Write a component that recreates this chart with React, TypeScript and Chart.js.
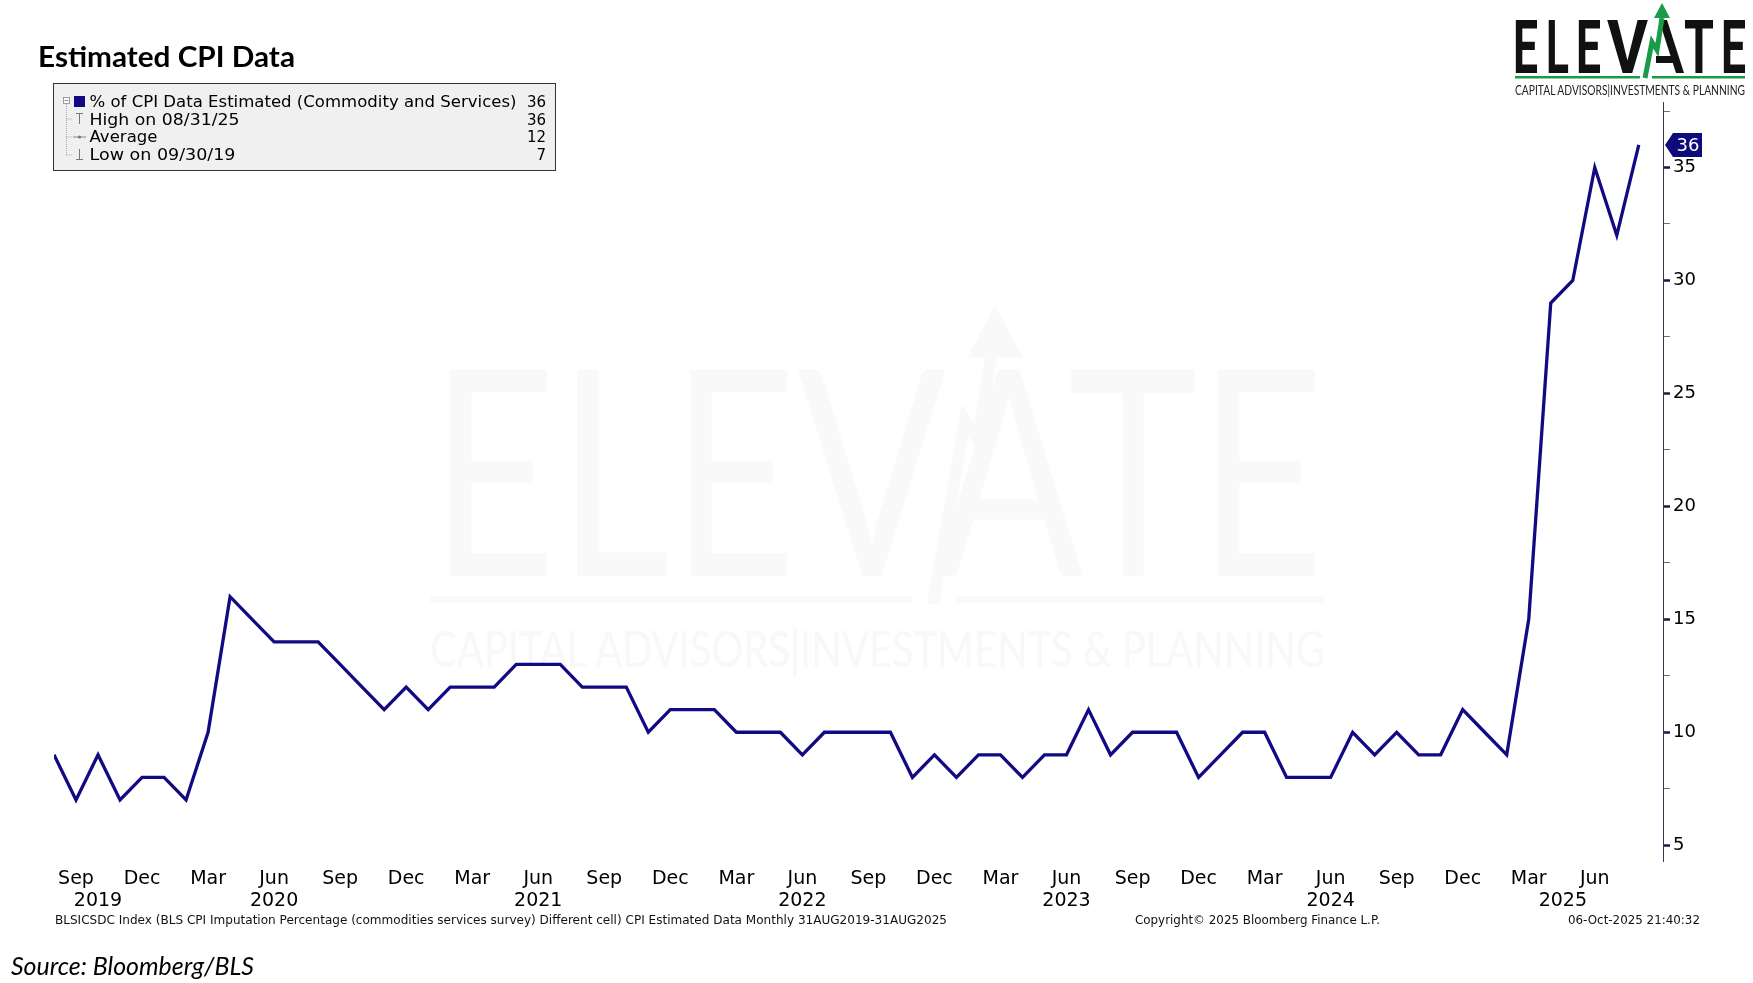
import React, { useEffect, useRef } from "react";
import { Chart, registerables } from "chart.js";

Chart.register(...registerables);

// ---------- data ----------
const months: string[] = [
  "2019-08", "2019-09", "2019-10", "2019-11", "2019-12",
  "2020-01", "2020-02", "2020-03", "2020-04", "2020-05", "2020-06", "2020-07", "2020-08", "2020-09", "2020-10", "2020-11", "2020-12",
  "2021-01", "2021-02", "2021-03", "2021-04", "2021-05", "2021-06", "2021-07", "2021-08", "2021-09", "2021-10", "2021-11", "2021-12",
  "2022-01", "2022-02", "2022-03", "2022-04", "2022-05", "2022-06", "2022-07", "2022-08", "2022-09", "2022-10", "2022-11", "2022-12",
  "2023-01", "2023-02", "2023-03", "2023-04", "2023-05", "2023-06", "2023-07", "2023-08", "2023-09", "2023-10", "2023-11", "2023-12",
  "2024-01", "2024-02", "2024-03", "2024-04", "2024-05", "2024-06", "2024-07", "2024-08", "2024-09", "2024-10", "2024-11", "2024-12",
  "2025-01", "2025-02", "2025-03", "2025-04", "2025-05", "2025-06", "2025-07", "2025-08",
];

const values: number[] = [
  9, 7, 9, 7, 8,
  8, 7, 10, 16, 15, 14, 14, 14, 13, 12, 11, 12,
  11, 12, 12, 12, 13, 13, 13, 12, 12, 12, 10, 11,
  11, 11, 10, 10, 10, 9, 10, 10, 10, 10, 8, 9,
  8, 9, 9, 8, 9, 9, 11, 9, 10, 10, 10, 8,
  9, 10, 10, 8, 8, 8, 10, 9, 10, 9, 9, 11,
  10, 9, 15, 29, 30, 35, 32, 36,
];

const monthNames = ["Jan", "Feb", "Mar", "Apr", "May", "Jun", "Jul", "Aug", "Sep", "Oct", "Nov", "Dec"];
const quarterMonthLabels = ["Sep", "Dec", "Mar", "Jun"];
const yMajorTicks = [5, 10, 15, 20, 25, 30, 35];
const yMinorTicks = [7.5, 12.5, 17.5, 22.5, 27.5, 32.5, 37.5];

const seriesName = "% of CPI Data Estimated (Commodity and Services)";
const chartTitle = "Estimated CPI Data";
const footerLeft =
  "BLSICSDC Index (BLS CPI Imputation Percentage (commodities services survey) Different cell) CPI Estimated Data Monthly 31AUG2019-31AUG2025";
const footerMid = "Copyright\u00A9 2025 Bloomberg Finance L.P.";
const footerRight = "06-Oct-2025 21:40:32";
const sourceText = "Source: Bloomberg/BLS";
const logoSub = "CAPITAL ADVISORS|INVESTMENTS & PLANNING";

// ---------- derived ----------
const Y_MIN = 4.3;
const Y_MAX = 37.9;
const X_MAX = values.length - 1 + 1.1;
const LINE = "#120a82";

const monthTicks = months
  .map((m, i) => ({ i, name: monthNames[parseInt(m.slice(5), 10) - 1] }))
  .filter((t) => quarterMonthLabels.includes(t.name));

const yearList: string[] = [];
months.forEach((m) => {
  const y = m.slice(0, 4);
  if (!yearList.includes(y)) yearList.push(y);
});
const yearTicks = yearList.map((y, k) => {
  let last = -1;
  months.forEach((m, i) => {
    if (m.startsWith(y)) last = i;
  });
  let start = 0;
  if (k > 0) {
    const prev = yearList[k - 1];
    months.forEach((m, i) => {
      if (m.startsWith(prev)) start = i;
    });
  }
  const end = k === yearList.length - 1 ? X_MAX : last;
  return { value: (start + end) / 2, label: y };
});

function fmtDate(m: string) {
  const yy = parseInt(m.slice(0, 4), 10);
  const mm = parseInt(m.slice(5), 10);
  const dd = new Date(yy, mm, 0).getDate();
  return `${String(mm).padStart(2, "0")}/${String(dd).padStart(2, "0")}/${String(yy).slice(2)}`;
}
const lastVal = values[values.length - 1];
const highVal = Math.max(...values);
const highIdx = values.lastIndexOf(highVal);
const lowVal = Math.min(...values);
const lowIdx = values.indexOf(lowVal);
const avgVal = Math.round(values.reduce((a, b) => a + b, 0) / values.length);

const badgePlugin = {
  id: "lastBadge",
  afterDraw(chart: any) {
    const ctx = chart.ctx as CanvasRenderingContext2D;
    const ys = chart.scales.y;
    const y = ys.getPixelForValue(lastVal);
    const r = chart.chartArea.right;
    ctx.save();
    ctx.fillStyle = "#0e0a7c";
    ctx.beginPath();
    ctx.moveTo(r + 2, y);
    ctx.lineTo(r + 10, y - 12);
    ctx.lineTo(r + 39, y - 12);
    ctx.lineTo(r + 39, y + 12);
    ctx.lineTo(r + 10, y + 12);
    ctx.closePath();
    ctx.fill();
    ctx.fillStyle = "#ffffff";
    ctx.font = "18px 'DejaVu Sans', Verdana, sans-serif";
    ctx.textAlign = "center";
    ctx.textBaseline = "middle";
    ctx.fillText(String(lastVal), r + 25, y + 1);
    ctx.restore();
  },
};

const TICK_FONT = "'DejaVu Sans', Verdana, sans-serif";

export default function App() {
  const canvasRef = useRef<HTMLCanvasElement | null>(null);

  useEffect(() => {
    if (!canvasRef.current) return;
    const chart = new Chart(canvasRef.current, {
      type: "line",
      data: {
        datasets: [
          {
            label: seriesName,
            data: values.map((v, i) => ({ x: i, y: v })),
            borderColor: LINE,
            borderWidth: 3.3,
            pointRadius: 0,
            tension: 0,
            fill: false,
            borderJoinStyle: "miter",
          } as any,
        ],
      },
      options: {
        animation: false,
        responsive: false,
        maintainAspectRatio: false,
        layout: { padding: { left: 54, right: 0, top: 102, bottom: 69 } },
        plugins: {
          legend: { display: false },
          tooltip: { enabled: false },
          title: { display: false },
        },
        scales: {
          x: {
            type: "linear",
            position: "bottom",
            min: 0,
            max: X_MAX,
            weight: 0,
            grid: { display: false, drawTicks: false },
            border: { display: false },
            afterBuildTicks: (s: any) => {
              s.ticks = monthTicks.map((t) => ({ value: t.i }));
            },
            afterFit: (s: any) => {
              s.height = 29;
            },
            ticks: {
              autoSkip: false,
              maxRotation: 0,
              minRotation: 0,
              padding: 7,
              color: "#000",
              font: { family: TICK_FONT, size: 19 },
              callback: (_v: any, idx: number) => (monthTicks[idx] ? monthTicks[idx].name : ""),
            },
          },
          x2: {
            type: "linear",
            position: "bottom",
            min: 0,
            max: X_MAX,
            weight: 1,
            grid: { display: false, drawTicks: false },
            border: { display: false },
            afterBuildTicks: (s: any) => {
              s.ticks = yearTicks.map((t) => ({ value: t.value }));
            },
            afterFit: (s: any) => {
              s.height = 24;
            },
            ticks: {
              autoSkip: false,
              maxRotation: 0,
              minRotation: 0,
              padding: 0,
              color: "#000",
              font: { family: TICK_FONT, size: 19 },
              callback: (_v: any, idx: number) => (yearTicks[idx] ? yearTicks[idx].label : ""),
            },
          },
          y: {
            type: "linear",
            position: "right",
            min: Y_MIN,
            max: Y_MAX,
            afterBuildTicks: (s: any) => {
              s.ticks = [...yMajorTicks, ...yMinorTicks].sort((a, b) => a - b).map((v) => ({ value: v }));
            },
            afterFit: (s: any) => {
              s.width = 90;
            },
            grid: {
              drawOnChartArea: false,
              drawTicks: true,
              tickLength: 7,
              tickColor: (c: any) => (c.tick && yMajorTicks.includes(c.tick.value) ? "#1a1a3a" : "#6a6a80"),
              tickWidth: (c: any) => (c.tick && yMajorTicks.includes(c.tick.value) ? 2.5 : 1),
            },
            border: { display: true, color: "#3a3a55", width: 1 },
            ticks: {
              autoSkip: false,
              padding: 3,
              color: "#000",
              font: { family: TICK_FONT, size: 18 },
              callback: (v: any) => (yMajorTicks.includes(Number(v)) ? String(v) : ""),
            },
          },
        },
      },
      plugins: [badgePlugin],
    } as any);
    return () => chart.destroy();
  }, []);

  const legendRows = [
    { text: seriesName, val: String(lastVal), y: 107, len: 427 },
    { text: `High on ${fmtDate(months[highIdx])}`, val: String(highVal), y: 124.7, len: 150 },
    { text: "Average", val: String(avgVal), y: 142.4, len: 68 },
    { text: `Low on ${fmtDate(months[lowIdx])}`, val: String(lowVal), y: 160.1, len: 146 },
  ];

  const letters = [
    { ch: "E", x: 1513, w: 25 },
    { ch: "L", x: 1546, w: 23 },
    { ch: "E", x: 1576, w: 25 },
    { ch: "V", x: 1607, w: 41 },
    { ch: "T", x: 1684, w: 30 },
    { ch: "E", x: 1721, w: 25 },
  ];

  return (
    <div style={{ position: "fixed", left: 0, top: 0, width: 1753, height: 983, background: "#fff", overflow: "hidden" }}>
      {/* watermark */}
      <svg width={1753} height={983} style={{ position: "absolute", left: 0, top: 0 }}>
        <text x={430} y={576} fontFamily="Lato, 'Open Sans', sans-serif" fontSize={288} fill="#f9f9f9" textLength={895} lengthAdjust="spacingAndGlyphs">
          ELEVATE
        </text>
        <rect x={430} y={596} width={482} height={7} fill="#fafafa" />
        <rect x={955} y={596} width={370} height={7} fill="#fafafa" />
        <polyline points="933,604 965,420 978,440 995,330" fill="none" stroke="#f9f9f9" strokeWidth={12} />
        <polygon points="967,358 1023,358 995,305" fill="#f9f9f9" />
        <text x={430} y={667} fontFamily="Lato, 'Open Sans', sans-serif" fontSize={50} fill="#f8f8f8" textLength={895} lengthAdjust="spacingAndGlyphs">
          {logoSub}
        </text>
      </svg>

      <canvas ref={canvasRef} width={1753} height={983} style={{ position: "absolute", left: 0, top: 0, width: 1753, height: 983 }} />

      {/* overlay texts */}
      <svg width={1753} height={983} style={{ position: "absolute", left: 0, top: 0, pointerEvents: "none" }}>
        <text x={38} y={67} fontFamily="Lato, 'Open Sans', sans-serif" fontWeight={700} fontSize={28} fill="#000" textLength={257} lengthAdjust="spacingAndGlyphs">
          {chartTitle}
        </text>

        {/* legend box */}
        <rect x={53.5} y={83.5} width={502} height={87} fill="#f0f0f0" stroke="#333" strokeWidth={1} />
        <rect x={63.5} y={97.5} width={6} height={6} fill="#fff" stroke="#888" strokeWidth={0.8} />
        <line x1={64.5} y1={100.5} x2={68.5} y2={100.5} stroke="#777" strokeWidth={0.8} />
        <line x1={66.5} y1={104} x2={66.5} y2={155} stroke="#999" strokeWidth={0.8} strokeDasharray="1,1" />
        <line x1={66.5} y1={119} x2={72} y2={119} stroke="#999" strokeWidth={0.8} strokeDasharray="1,1" />
        <line x1={66.5} y1={137} x2={72} y2={137} stroke="#999" strokeWidth={0.8} strokeDasharray="1,1" />
        <line x1={66.5} y1={155} x2={72} y2={155} stroke="#999" strokeWidth={0.8} strokeDasharray="1,1" />
        <rect x={74} y={96} width={11} height={11} fill={LINE} />
        {/* high icon */}
        <line x1={76} y1={113.5} x2={83} y2={113.5} stroke="#777" strokeWidth={1} />
        <line x1={79.5} y1={113.5} x2={79.5} y2={124} stroke="#777" strokeWidth={1} />
        {/* average icon */}
        <line x1={73} y1={137} x2={86} y2={137} stroke="#888" strokeWidth={1} />
        <circle cx={79.5} cy={137} r={1.6} fill="#777" />
        {/* low icon */}
        <line x1={79.5} y1={149} x2={79.5} y2={159.5} stroke="#777" strokeWidth={1} />
        <line x1={76} y1={159.5} x2={83} y2={159.5} stroke="#777" strokeWidth={1} />
        {legendRows.map((r, i) => (
          <g key={i}>
            <text x={89.5} y={r.y} fontFamily={TICK_FONT} fontSize={15} fill="#000" textLength={r.len} lengthAdjust="spacingAndGlyphs">
              {r.text}
            </text>
            <text x={546} y={r.y} fontFamily={TICK_FONT} fontSize={15} fill="#000" textAnchor="end">
              {r.val}
            </text>
          </g>
        ))}

        {/* logo */}
        {letters.map((l, i) => (
          <text key={i} x={l.x} y={73} fontFamily="Roboto, 'Open Sans', sans-serif" fontWeight={700} fontSize={74} fill="#111" textLength={l.w} lengthAdjust="spacingAndGlyphs">
            {l.ch}
          </text>
        ))}
        <polygon points="1659,20 1667,20 1684,73 1676,73" fill="#111" />
        <rect x={1656} y={56} width={22} height={7} fill="#111" />
        <polyline points="1645,78 1652,42 1657,50 1662,18" fill="none" stroke="#1b9a4a" strokeWidth={5} strokeLinejoin="miter" />
        <polygon points="1654,18 1670,18 1662,3" fill="#1b9a4a" />
        <rect x={1515} y={76} width={125} height={2.5} fill="#1b9a4a" />
        <rect x={1652} y={76} width={93} height={2.5} fill="#1b9a4a" />
        <text x={1515} y={95} fontFamily="Lato, 'Open Sans', sans-serif" fontSize={12.5} fill="#222" textLength={230} lengthAdjust="spacingAndGlyphs">
          {logoSub}
        </text>

        {/* footers */}
        <text x={55} y={923.5} fontFamily={TICK_FONT} fontSize={12} fill="#111" textLength={892} lengthAdjust="spacingAndGlyphs">
          {footerLeft}
        </text>
        <text x={1135} y={923.5} fontFamily={TICK_FONT} fontSize={12} fill="#111" textLength={245} lengthAdjust="spacingAndGlyphs">
          {footerMid}
        </text>
        <text x={1568} y={923.5} fontFamily={TICK_FONT} fontSize={12} fill="#111" textLength={132} lengthAdjust="spacingAndGlyphs">
          {footerRight}
        </text>
        <text x={11} y={975} fontFamily="Lato, 'Open Sans', sans-serif" fontStyle="italic" fontSize={25} fill="#000" textLength={243} lengthAdjust="spacingAndGlyphs">
          {sourceText}
        </text>
      </svg>
    </div>
  );
}
